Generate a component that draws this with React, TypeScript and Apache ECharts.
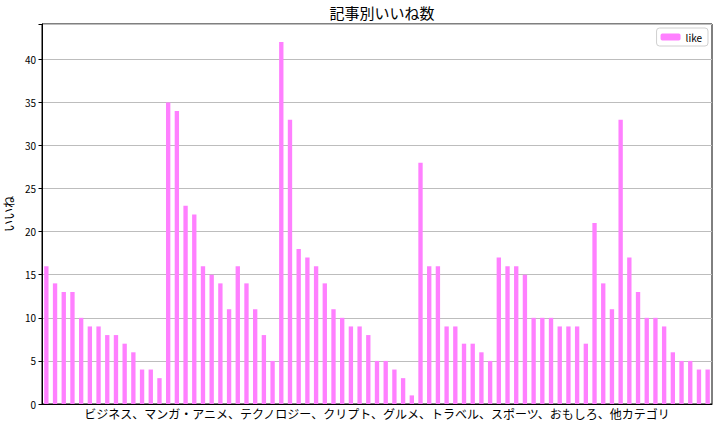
import React, { useEffect, useRef } from "react";
import * as echarts from "echarts";

const titleText = "記事別いいね数";
const xLabel = "ビジネス、マンガ・アニメ、テクノロジー、クリプト、グルメ、トラベル、スポーツ、おもしろ、他カテゴリ";
const yLabel = "いいね";
const seriesName = "like";

const likes: number[] = [
  16, 14, 13, 13, 10, 9, 9, 8, 8, 7, 6, 4, 4, 3,
  35, 34, 23, 22, 16, 15, 14, 11, 16, 14, 11, 8, 5,
  42, 33, 18, 17, 16, 14, 11, 10, 9, 9, 8, 5, 5, 4, 3, 1,
  28, 16, 16, 9, 9, 7, 7, 6, 5,
  17, 16, 16, 15, 10, 10, 10, 9, 9, 9, 7,
  21, 14, 11, 33, 17, 13, 10, 10, 9, 6, 5, 5, 4, 4,
];
const categories: string[] = likes.map((_, i) => String(i));

const FONT = "'Noto Sans CJK JP', 'DejaVu Sans', sans-serif";

export default function App() {
  const ref = useRef<HTMLDivElement>(null);
  useEffect(() => {
    if (!ref.current) return;
    const chart = echarts.init(ref.current, undefined, { renderer: "svg" });
    chart.setOption({
      animation: false,
      backgroundColor: "#ffffff",
      title: {
        text: titleText,
        left: 377,
        textAlign: "center",
        top: 0,
        textStyle: { fontFamily: FONT, fontSize: 15, fontWeight: "normal", color: "#000" },
      },
      legend: {
        right: 14,
        top: 28,
        data: [seriesName],
        itemWidth: 20,
        itemHeight: 7,
        itemGap: 5,
        padding: [4, 6, 4, 4],
        borderColor: "#d0d0d0",
        borderWidth: 1,
        borderRadius: 3,
        textStyle: { fontFamily: FONT, fontSize: 10, color: "#000" },
      },
      grid: {
        left: 42,
        right: 10,
        top: 24,
        bottom: 23,
        show: true,
        borderColor: "#000",
        borderWidth: 1,
        containLabel: false,
        outerBoundsMode: "none",
      },
      xAxis: {
        type: "category",
        data: categories,
        name: xLabel,
        nameLocation: "middle",
        nameGap: 3,
        nameTextStyle: { fontFamily: FONT, fontSize: 12, color: "#000" },
        axisLabel: { show: false },
        axisTick: { show: false },
        axisLine: { show: true, lineStyle: { color: "#000" } },
        splitLine: { show: false },
      },
      yAxis: {
        type: "value",
        min: 0,
        max: 44.1,
        interval: 5,
        name: yLabel,
        nameLocation: "middle",
        nameGap: 24,
        nameRotate: 90,
        nameTextStyle: { fontFamily: FONT, fontSize: 12, color: "#000" },
        axisLine: { show: true, lineStyle: { color: "#000" } },
        axisTick: { show: true, length: 3.5, lineStyle: { color: "#000" } },
        axisLabel: {
          fontFamily: FONT,
          fontSize: 10,
          color: "#000",
          margin: 6,
          formatter: (v: number) => (Math.abs(v % 5) < 1e-9 ? String(v) : ""),
        },
        splitLine: { show: true, lineStyle: { color: "#bdbdbd", width: 1 } },
      },
      series: [
        {
          name: seriesName,
          type: "bar",
          data: likes,
          barWidth: "50%",
          itemStyle: { color: "#ff80ff" },
        },
      ],
    });
    return () => chart.dispose();
  }, []);
  return (
    <div
      ref={ref}
      style={{ position: "absolute", left: 0, top: 0, width: 722, height: 427 }}
    />
  );
}
